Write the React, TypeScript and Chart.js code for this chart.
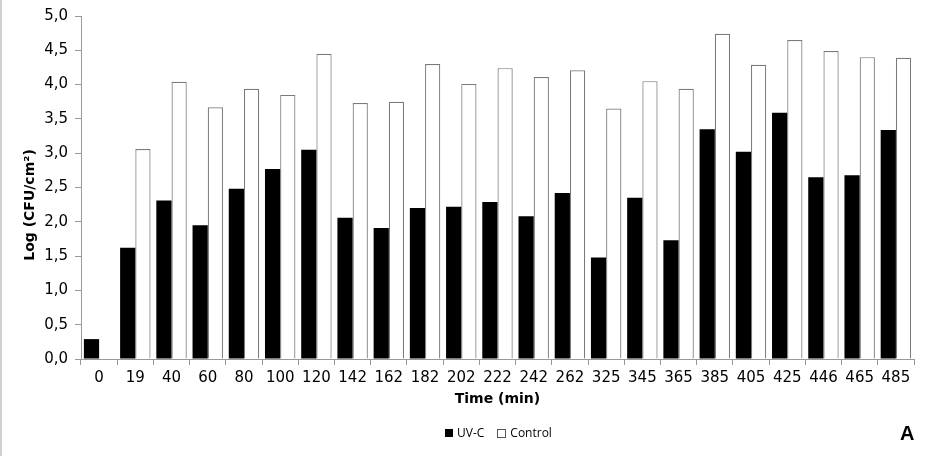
import React, { useEffect, useRef } from "react";
import { Chart, registerables } from "chart.js";

Chart.register(...registerables);

const categories = ["0","19","40","60","80","100","120","142","162","182","202","222","242","262","325","345","365","385","405","425","446","465","485"];
const uvcValues = [0.29,1.62,2.31,1.95,2.48,2.77,3.05,2.06,1.91,2.20,2.22,2.29,2.08,2.42,1.48,2.35,1.73,3.35,3.02,3.59,2.65,2.68,3.34];
const controlValues = [0,3.06,4.04,3.67,3.94,3.85,4.45,3.73,3.75,4.30,4.01,4.24,4.11,4.21,3.65,4.05,3.94,4.74,4.29,4.65,4.49,4.40,4.39];
const yTicks = [0,0.5,1,1.5,2,2.5,3,3.5,4,4.5,5];
const yTitle = "Log (CFU/cm²)";
const xTitle = "Time (min)";

const yTitlePlugin = {
  id: "yTitlePlugin",
  afterDraw(chart: any) {
    const ctx = chart.ctx;
    ctx.save();
    ctx.translate(28, 205);
    ctx.rotate(-Math.PI / 2);
    ctx.font = "bold 14px 'DejaVu Sans', sans-serif";
    ctx.fillStyle = "#000";
    ctx.textAlign = "center";
    ctx.textBaseline = "middle";
    ctx.fillText(yTitle, 0, 0);
    ctx.restore();
  },
};

export default function App() {
  const ref = useRef<HTMLCanvasElement>(null);
  useEffect(() => {
    document.body.style.margin = "0";
    const ctx = ref.current!;
    const chart = new Chart(ctx, {
      type: "bar",
      data: {
        labels: categories,
        datasets: [
          { label: "UV-C", data: uvcValues, backgroundColor: "#000000", borderColor: "#000000", borderWidth: 0 },
          { label: "Control", data: controlValues.map(v => (v === 0 ? null : v)), backgroundColor: "#ffffff", borderColor: "#7a7a7a", borderWidth: 1.2 },
        ],
      },
      plugins: [yTitlePlugin],
      options: {
        animation: false,
        responsive: false,
        maintainAspectRatio: false,
        layout: { padding: { left: 0, right: 16, top: 14, bottom: 0 } },
        datasets: { bar: { categoryPercentage: 0.84, barPercentage: 1.0 } },
        plugins: {
          tooltip: { enabled: false },
          legend: { display: false },
        },
        scales: {
          x: {
            afterFit: (s: any) => { s.height = 97; },
            grid: { offset: true, drawOnChartArea: false, drawTicks: true, tickLength: 6, color: "#999" },
            border: { display: true, color: "#999" },
            ticks: { font: { family: "'DejaVu Sans', sans-serif", size: 15 }, color: "#000", padding: 4, maxRotation: 0, autoSkip: false },
            title: { display: true, text: xTitle, font: { family: "'DejaVu Sans', sans-serif", size: 14, weight: "bold" }, color: "#000", padding: { top: 0, bottom: 48 } },
          },
          y: {
            min: 0,
            max: 5,
            afterFit: (s: any) => { s.width = 79; },
            afterBuildTicks: (s: any) => { s.ticks = yTicks.map(v => ({ value: v })); },
            grid: { drawOnChartArea: false, drawTicks: true, tickLength: 6, color: "#999" },
            border: { display: true, color: "#999" },
            ticks: {
              font: { family: "'DejaVu Sans', sans-serif", size: 15 },
              color: "#000",
              padding: 7,
              callback: (v: any) => Number(v).toFixed(1).replace(".", ","),
            },
          },
        },
      },
    });
    return () => chart.destroy();
  }, []);
  const legendText = { fontFamily: "'Open Sans', sans-serif", fontSize: 12, color: "#000", lineHeight: "14px" };
  return (
    <div style={{ position: "relative", width: 930, height: 456, background: "#fff", boxSizing: "border-box", borderLeft: "2px solid #d0d0d0" }}>
      <canvas ref={ref} width={928} height={456} style={{ display: "block" }} />
      <div style={{ position: "absolute", left: 443, top: 426, display: "flex", alignItems: "center" }}>
        <span style={{ display: "inline-block", width: 8, height: 8, background: "#000", marginRight: 4 }} />
        <span style={legendText}>UV-C</span>
        <span style={{ display: "inline-block", width: 7, height: 7, background: "#fff", border: "1px solid #555", marginLeft: 13, marginRight: 4 }} />
        <span style={legendText}>Control</span>
      </div>
      <div style={{ position: "absolute", left: 898, top: 422, fontFamily: "'Liberation Sans', Arial, sans-serif", fontWeight: "bold", fontSize: 20, color: "#000" }}>A</div>
    </div>
  );
}
